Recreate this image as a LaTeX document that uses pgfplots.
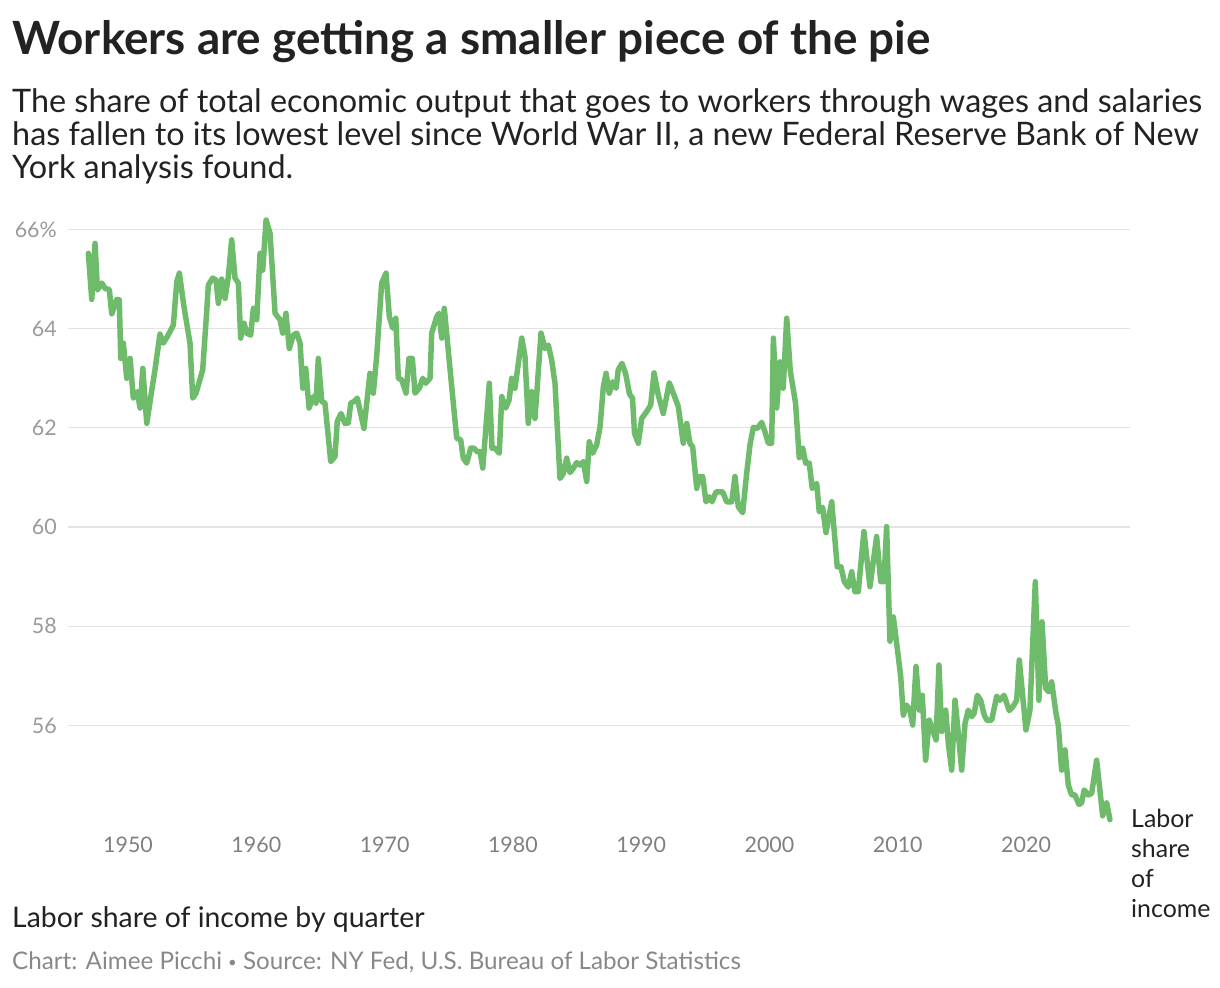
\documentclass[border=0pt]{standalone}
\usepackage{pgfplots}
\pgfplotsset{compat=1.18}
\usepackage{fontspec}
\setmainfont{Lato}
\definecolor{linegreen}{HTML}{6EBB6B}
\definecolor{titlecol}{HTML}{222222}
\definecolor{tickgrey}{HTML}{9A9A9A}
\definecolor{xtickgrey}{HTML}{7F7F7F}
\definecolor{footgrey}{HTML}{888888}
\definecolor{gridgrey}{HTML}{E3E3E3}
\begin{document}
\begin{tikzpicture}[x=1bp,y=1bp]
\useasboundingbox (0,0) rectangle (1220,988);
\node[anchor=base west, inner sep=0pt, text=titlecol] at (12,933) {\fontsize{46}{52}\selectfont\bfseries Workers are getting a smaller piece of the pie};
\node[anchor=base west, inner sep=0pt, text=titlecol] at (12,875) {\fontsize{32.5}{36}\selectfont The share of total economic output that goes to workers through wages and salaries};
\node[anchor=base west, inner sep=0pt, text=titlecol] at (12,842) {\fontsize{32.5}{36}\selectfont has fallen to its lowest level since World War II, a new Federal Reserve Bank of New};
\node[anchor=base west, inner sep=0pt, text=titlecol] at (12,809) {\fontsize{32.5}{36}\selectfont York analysis found.};
\node[anchor=base west, inner sep=0pt, text=titlecol] at (12,60) {\fontsize{28.5}{33}\selectfont Labor share of income by quarter};
\node[anchor=base west, inner sep=0pt, text=footgrey] at (12,18) {\fontsize{24.3}{28}\selectfont Chart: Aimee Picchi \raisebox{2bp}{\fontsize{15}{15}\selectfont\textbullet}\ Source: NY Fed, U.S. Bureau of Labor Statistics};
\node[anchor=base west, inner sep=0pt, text=titlecol] at (1131,160) {\fontsize{25}{29}\selectfont Labor};
\node[anchor=base west, inner sep=0pt, text=titlecol] at (1131,130) {\fontsize{25}{29}\selectfont share};
\node[anchor=base west, inner sep=0pt, text=titlecol] at (1131,100) {\fontsize{25}{29}\selectfont of};
\node[anchor=base west, inner sep=0pt, text=titlecol] at (1131,70) {\fontsize{25}{29}\selectfont income};
\begin{axis}[
  scale only axis,
  width=1062bp, height=615.1bp,
  at={(68bp,158.3bp)}, anchor=south west,
  xmin=1945.32, xmax=2028.1,
  ymin=53.9, ymax=66.3,
  axis line style={draw=none},
  clip=false,
  ytick={56,58,60,62,64,66},
  yticklabels={56,58,60,62,64,66\%},
  xtick={1950,1960,1970,1980,1990,2000,2010,2020},
  xticklabels={1950,1960,1970,1980,1990,2000,2010,2020},
  ymajorgrids,
  major grid style={gridgrey, line width=1.2bp},
  major tick length=0pt,
  tick style={draw=none},
  yticklabel style={anchor=east, inner sep=0pt, xshift=-11bp, text=tickgrey, font=\fontsize{21.5}{25}\selectfont},
  xticklabel style={anchor=north, inner sep=0pt, yshift=-7bp, text=xtickgrey, font=\fontsize{21.5}{25}\selectfont},
]
\addplot[linegreen, line width=5.5bp, line join=round, line cap=round] coordinates {
(1946.91,65.52) (1947.17,64.59) (1947.43,65.72) (1947.61,64.78) (1947.95,64.92) (1948.21,64.81) (1948.54,64.79) (1948.73,64.30) (1949.12,64.59) (1949.32,64.58) (1949.43,63.40) (1949.63,63.71) (1949.90,63.00) (1950.16,63.40) (1950.41,62.60) (1950.72,62.73) (1950.94,62.40) (1951.15,63.20) (1951.46,62.09) (1951.85,62.76) (1952.10,63.17) (1952.49,63.89) (1952.75,63.71) (1953.06,63.84) (1953.53,64.07) (1953.80,64.95) (1954.00,65.12) (1954.36,64.44) (1954.83,63.71) (1955.04,62.60) (1955.30,62.70) (1955.82,63.17) (1956.13,64.34) (1956.26,64.88) (1956.60,65.02) (1956.86,64.98) (1957.04,64.51) (1957.30,65.00) (1957.56,64.61) (1957.82,65.05) (1958.08,65.79) (1958.34,65.02) (1958.60,64.92) (1958.78,63.81) (1959.04,64.11) (1959.25,63.91) (1959.56,63.87) (1959.77,64.41) (1960.03,64.18) (1960.29,65.52) (1960.50,65.18) (1960.76,66.19) (1961.07,65.92) (1961.46,64.31) (1961.85,64.18) (1962.06,63.91) (1962.31,64.31) (1962.57,63.60) (1962.88,63.87) (1963.15,63.91) (1963.41,63.71) (1963.62,62.80) (1963.85,63.20) (1964.11,62.40) (1964.44,62.63) (1964.65,62.50) (1964.83,63.40) (1965.10,62.53) (1965.35,62.50) (1965.80,61.32) (1966.13,61.42) (1966.31,62.13) (1966.60,62.29) (1966.91,62.09) (1967.17,62.10) (1967.36,62.50) (1967.61,62.53) (1967.87,62.60) (1968.39,61.99) (1968.86,63.10) (1969.12,62.70) (1969.38,63.44) (1969.77,64.92) (1970.11,65.12) (1970.37,64.24) (1970.63,64.01) (1970.87,64.21) (1971.07,63.00) (1971.33,62.97) (1971.67,62.70) (1971.90,63.40) (1972.16,63.40) (1972.37,62.70) (1972.70,62.80) (1972.97,63.00) (1973.20,62.90) (1973.54,63.00) (1973.67,63.91) (1974.06,64.24) (1974.24,64.31) (1974.45,63.81) (1974.65,64.41) (1975.23,62.83) (1975.62,61.79) (1975.93,61.76) (1976.13,61.39) (1976.40,61.29) (1976.71,61.59) (1976.97,61.59) (1977.22,61.52) (1977.44,61.52) (1977.65,61.19) (1978.16,62.90) (1978.37,61.59) (1978.60,61.59) (1978.94,61.49) (1979.13,62.63) (1979.44,62.40) (1979.70,62.56) (1979.91,63.00) (1980.16,62.80) (1980.69,63.81) (1980.94,63.44) (1981.20,62.09) (1981.46,62.73) (1981.72,62.19) (1982.19,63.91) (1982.50,63.60) (1982.76,63.67) (1983.02,63.37) (1983.28,62.90) (1983.67,60.98) (1983.93,61.08) (1984.19,61.39) (1984.45,61.10) (1984.71,61.19) (1984.97,61.30) (1985.23,61.25) (1985.49,61.32) (1985.75,60.92) (1985.95,61.72) (1986.22,61.49) (1986.53,61.66) (1986.79,62.02) (1987.05,62.83) (1987.26,63.10) (1987.51,62.70) (1987.78,62.93) (1988.04,62.80) (1988.21,63.17) (1988.50,63.30) (1988.78,63.10) (1989.09,62.68) (1989.32,62.60) (1989.48,61.89) (1989.77,61.69) (1990.04,62.19) (1990.43,62.33) (1990.74,62.46) (1991.00,63.11) (1991.33,62.66) (1991.72,62.29) (1992.19,62.91) (1992.56,62.66) (1992.89,62.43) (1993.28,61.69) (1993.55,62.09) (1993.80,61.69) (1994.01,61.62) (1994.33,60.78) (1994.53,61.02) (1994.79,61.02) (1995.05,60.51) (1995.31,60.61) (1995.52,60.51) (1995.83,60.71) (1996.35,60.71) (1996.66,60.51) (1997.05,60.51) (1997.31,61.02) (1997.57,60.41) (1997.91,60.29) (1998.22,61.08) (1998.48,61.66) (1998.74,62.01) (1999.05,61.99) (1999.39,62.11) (1999.65,61.92) (1999.91,61.69) (2000.17,61.69) (2000.30,63.81) (2000.56,62.40) (2000.82,63.33) (2001.07,62.80) (2001.34,64.21) (2001.62,63.15) (2002.03,62.50) (2002.32,61.40) (2002.59,61.59) (2002.82,61.29) (2003.10,61.29) (2003.33,60.78) (2003.68,60.88) (2003.88,60.31) (2004.14,60.40) (2004.40,59.89) (2004.85,60.51) (2005.28,59.20) (2005.57,59.20) (2005.83,58.90) (2006.14,58.79) (2006.41,59.10) (2006.66,58.70) (2006.92,58.70) (2007.36,59.91) (2007.83,58.80) (2008.35,59.81) (2008.67,58.90) (2008.92,58.90) (2009.13,60.01) (2009.39,57.70) (2009.65,58.19) (2010.04,57.39) (2010.23,56.98) (2010.43,56.21) (2010.69,56.41) (2010.95,56.31) (2011.16,56.01) (2011.42,57.19) (2011.68,56.31) (2011.91,56.61) (2012.17,55.30) (2012.45,56.11) (2012.72,55.91) (2012.98,55.71) (2013.21,57.22) (2013.42,55.88) (2013.73,56.31) (2013.94,55.64) (2014.20,55.10) (2014.46,56.51) (2014.72,55.84) (2014.98,55.10) (2015.24,56.04) (2015.49,56.31) (2015.76,56.18) (2015.96,56.25) (2016.20,56.61) (2016.46,56.51) (2016.74,56.21) (2016.97,56.10) (2017.32,56.11) (2017.71,56.59) (2017.96,56.51) (2018.28,56.61) (2018.69,56.30) (2019.00,56.39) (2019.27,56.51) (2019.47,57.32) (2019.99,55.91) (2020.30,56.31) (2020.72,58.90) (2021.00,56.51) (2021.24,58.09) (2021.53,56.75) (2021.76,56.68) (2021.99,56.88) (2022.33,56.25) (2022.51,56.01) (2022.77,55.10) (2023.03,55.51) (2023.29,54.80) (2023.55,54.60) (2023.81,54.60) (2024.12,54.41) (2024.33,54.44) (2024.53,54.70) (2024.85,54.60) (2025.11,54.63) (2025.50,55.30) (2025.97,54.18) (2026.28,54.44) (2026.54,54.10)
};
\end{axis}
\end{tikzpicture}
\end{document}
